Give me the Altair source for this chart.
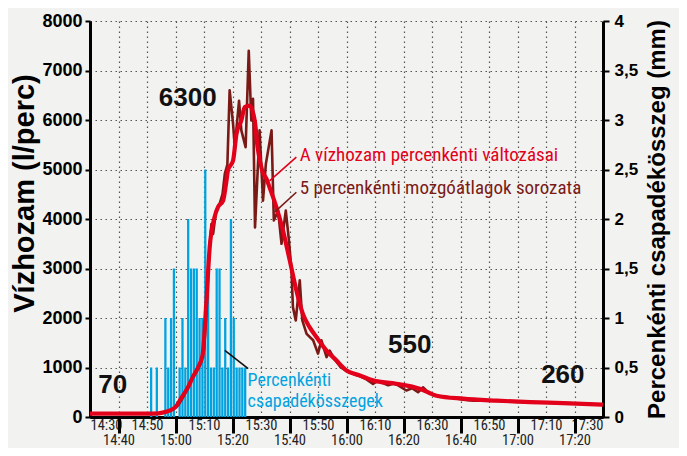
import altair as alt
import pandas as pd

# ---------------- data ----------------
X_TICK_LABELS = ["14:30", "14:40", "14:50", "15:00", "15:10", "15:20", "15:30",
                 "15:40", "15:50", "16:00", "16:10", "16:20", "16:30", "16:40",
                 "16:50", "17:00", "17:10", "17:20", "17:30"]

# per-minute rainfall (mm)
RAIN_TIMES = ["14:51", "14:53", "14:56", "14:57", "14:58", "14:59", "15:01", "15:02",
              "15:03", "15:04", "15:05", "15:06", "15:07", "15:08", "15:09", "15:10",
              "15:11", "15:12", "15:13", "15:14", "15:15", "15:16", "15:17", "15:18",
              "15:19", "15:20", "15:21", "15:22", "15:23", "15:24"]
RAIN_MM = [0.5, 0.5, 1.0, 0.5, 1.0, 1.5, 0.5, 1.0,
           0.5, 2.0, 1.5, 1.5, 1.5, 1.0, 1.0, 2.5,
           1.5, 0.5, 0.5, 1.5, 1.5, 0.5, 1.0, 0.5,
           2.0, 1.0, 0.5, 0.5, 0.5, 0.5]

# per-minute discharge changes (dark line), minutes after 14:30 -> l/perc
DARK_MIN = [0, 24, 27, 30, 31, 32, 33, 34, 35, 36, 37, 38, 39, 40, 40.8, 41.8, 42.6,
            43.2, 44.2, 45.5, 46.5, 47.3, 48.2, 49, 50.2, 50.8, 52.3, 53.1, 54.6, 55.7,
            56.6, 57.2, 57.9, 59.5, 60.7, 61.7, 63.7, 64.5, 66, 67.2, 68.7, 69.8, 70.7,
            71.2, 72.2, 73.6, 74.5, 76, 78.3, 80, 81.2, 83, 84.1, 86, 88, 90, 94, 97,
            99.3, 101, 104.6, 107, 111, 113, 115.1, 116.9, 119, 122, 126, 131, 134.4,
            140, 150, 160, 170, 180]
DARK_VAL = [70, 70, 105, 190, 240, 330, 430, 560, 680, 800, 900, 980, 1100, 1350, 2100,
            3300, 3900, 3700, 4150, 4310, 4500, 4910, 5100, 6600, 5920, 5450, 6390, 5790,
            5450, 7400, 5990, 6430, 3830, 5790, 4370, 5110, 5790, 3970, 4170, 3500, 4170,
            3570, 2960, 2220, 1950, 2760, 1950, 1680, 1550, 1280, 1550, 1210, 1340, 1150,
            1000, 930, 840, 760, 670, 730, 640, 680, 535, 580, 500, 600, 480, 430, 400,
            350, 330, 335, 305, 290, 275, 250]

# 5-minute moving average (red line)
RED_MIN = [0, 20, 24, 27, 30, 32, 34.4, 36, 37.9, 39.5, 40.8, 42, 43.7, 45, 46.7, 47.9,
           48.4, 50.2, 51.4, 53.1, 54.3, 56, 57.8, 58.8, 60.4, 62, 63, 65.4, 67.7, 70.1,
           72.4, 74.7, 77.1, 79.5, 83, 86.5, 90, 94.7, 99.3, 107.5, 115.7, 121.6, 130.9,
           142.7, 154.4, 166, 180]
RED_VAL = [70, 70, 75, 110, 200, 380, 600, 800, 1000, 1250, 2290, 3430, 4036, 4250, 4370,
           4780, 4980, 5180, 5720, 5990, 6260, 6290, 5990, 5450, 4980, 4800, 4640, 4240,
           3770, 3160, 2560, 2080, 1810, 1610, 1340, 1140, 940, 840, 740, 670, 570, 430,
           370, 330, 300, 280, 250]

BIG_TEXT = ["6300", "70", "550", "260"]
BIG_MIN = [34.3, 8.0, 112.2, 165.9]
BIG_VAL = [6450, 640, 1445, 841]

NOTE_TEXT = ["A vízhozam percenkénti változásai", "5 percenkénti mozgóátlagok sorozata"]
NOTE_MIN = [73.6, 73.6]
NOTE_VAL = [5283, 4636]

RAIN_NOTE = ["Percenkénti", "csapadékösszegek"]
RAIN_NOTE_MIN = [55.3, 55.3]
RAIN_NOTE_VAL = [735, 300]

LEAD_MIN = [47.3, 72.4, 72.4]
LEAD_VAL = [1345, 5250, 4540]
LEAD_MIN2 = [55.5, 63.0, 64.8]
LEAD_VAL2 = [975, 4770, 4140]
LEAD_KIND = ["rain", "red", "dark"]


def to_min(s):
    h, m = s.split(":")
    return (int(h) - 14) * 60 + int(m) - 30


rain = pd.DataFrame({"t": [to_min(s) for s in RAIN_TIMES], "mm": RAIN_MM})
rain["t0"] = rain["t"] + 0.05
rain["t1"] = rain["t"] + 0.85
dark = pd.DataFrame({"t": DARK_MIN, "v": DARK_VAL})
red = pd.DataFrame({"t": RED_MIN, "v": RED_VAL})
big = pd.DataFrame({"t": BIG_MIN, "v": BIG_VAL, "txt": BIG_TEXT})
notes = pd.DataFrame({"t": NOTE_MIN, "v": NOTE_VAL, "txt": NOTE_TEXT, "k": ["red", "dark"]})
rnotes = pd.DataFrame({"t": RAIN_NOTE_MIN, "v": RAIN_NOTE_VAL, "txt": RAIN_NOTE})
leads = pd.DataFrame({"t": LEAD_MIN, "v": LEAD_VAL, "t2": LEAD_MIN2, "v2": LEAD_VAL2, "k": LEAD_KIND})

RED = "#E2001A"
DARK = "#7A1A16"
BLUE = "#00A3E0"
NARROW = "Roboto Condensed, DejaVu Sans Condensed, Roboto, Liberation Sans"
SANS = "Liberation Sans"
GRID = dict(grid=True, gridDash=[1.5, 3.5], gridColor="#555555", gridWidth=1.2)

xscale = alt.Scale(domain=[0, 180], nice=False, zero=False)
yscale = alt.Scale(domain=[0, 8000], nice=False)
rscale = alt.Scale(domain=[0, 4], nice=False)

label_arr = "[" + ",".join("'%s'" % s for s in X_TICK_LABELS) + "]"
label_expr = label_arr + "[round(datum.value / 10)]"

# first row of time labels (14:30, 14:50, ...)
x_axis_a = alt.Axis(
    orient="bottom",
    values=list(range(0, 181, 20)),
    labelExpr=label_expr,
    domainColor="black", domainWidth=3,
    ticks=False, labelPadding=1,
    labelFont=NARROW, labelFontSize=14.5, labelColor="#222222",
    title=None, **GRID,
)
# second row (14:40, 15:00, ...) with long ticks
x_axis_b = alt.Axis(
    orient="bottom",
    values=list(range(10, 180, 20)),
    labelExpr=label_expr,
    domainColor="black", domainWidth=3,
    tickColor="black", tickWidth=3, tickSize=16, labelPadding=0,
    labelFont=NARROW, labelFontSize=14.5, labelColor="#222222",
    title=None, **GRID,
)

y_axis = alt.Axis(
    orient="left",
    values=list(range(0, 8001, 1000)),
    format="d",
    domainColor="black", domainWidth=3,
    tickColor="black", tickWidth=2, tickSize=5,
    labelFont=SANS, labelFontWeight="bold", labelFontSize=18, labelColor="black",
    labelPadding=3,
    title="Vízhozam (l/perc)", titleFont=SANS, titleFontWeight="bold",
    titleFontSize=29, titleColor="black", titleY=172, titlePadding=2,
    **GRID,
)

r_axis = alt.Axis(
    orient="right",
    values=[0, 0.5, 1, 1.5, 2, 2.5, 3, 3.5, 4],
    labelExpr="replace(toString(datum.value), '.', ',')",
    grid=False,
    domainColor="black", domainWidth=3,
    tickColor="black", tickWidth=2, tickSize=6,
    labelFont=SANS, labelFontWeight="bold", labelFontSize=17, labelColor="black",
    labelPadding=5,
    title="Percenkénti csapadékösszeg (mm)", titleFont=SANS, titleFontWeight="bold",
    titleFontSize=24, titleColor="black", titleAngle=270, titleBaseline="top",
    titlePadding=8,
)

bars = alt.Chart(rain).mark_bar(color=BLUE).encode(
    x=alt.X("t0:Q", scale=xscale, axis=x_axis_a),
    x2="t1:Q",
    y=alt.Y("mm:Q", scale=rscale, axis=r_axis),
    y2=alt.datum(0),
)

dark_line = alt.Chart(dark).mark_line(color=DARK, strokeWidth=2.6, strokeJoin="round").encode(
    x=alt.X("t:Q", scale=xscale, axis=x_axis_b),
    y=alt.Y("v:Q", scale=yscale, axis=y_axis),
)

red_line = alt.Chart(red).mark_line(color=RED, strokeWidth=4.2, strokeJoin="round",
                                    interpolate="monotone").encode(
    x=alt.X("t:Q", scale=xscale, axis=None),
    y=alt.Y("v:Q", scale=yscale, axis=None),
)

lead_rules = alt.Chart(leads).mark_rule(strokeWidth=1.6).encode(
    x=alt.X("t:Q", scale=xscale, axis=None),
    y=alt.Y("v:Q", scale=yscale, axis=None),
    x2="t2:Q", y2="v2:Q",
    color=alt.Color("k:N", scale=alt.Scale(domain=["rain", "red", "dark"],
                                           range=["#111111", RED, DARK]), legend=None),
)

big_text = alt.Chart(big).mark_text(font=SANS, fontWeight="bold", fontSize=26,
                                    color="#111111", align="center", baseline="middle").encode(
    x=alt.X("t:Q", scale=xscale, axis=None),
    y=alt.Y("v:Q", scale=yscale, axis=None),
    text="txt:N",
)

note_text = alt.Chart(notes).mark_text(font=NARROW, fontSize=19, align="left",
                                       baseline="middle").encode(
    x=alt.X("t:Q", scale=xscale, axis=None),
    y=alt.Y("v:Q", scale=yscale, axis=None),
    text="txt:N",
    color=alt.Color("k:N", scale=alt.Scale(domain=["red", "dark"], range=[RED, DARK]),
                    legend=None),
)

rain_text = alt.Chart(rnotes).mark_text(font=NARROW, fontSize=18, align="left",
                                        baseline="middle", color=BLUE).encode(
    x=alt.X("t:Q", scale=xscale, axis=None),
    y=alt.Y("v:Q", scale=yscale, axis=None),
    text="txt:N",
)

chart = alt.layer(
    bars, dark_line, red_line, lead_rules, big_text, note_text, rain_text
).resolve_scale(
    y="independent", color="independent"
).resolve_axis(
    x="independent", y="independent"
).properties(
    width=513, height=396,
    autosize=alt.AutoSizeParams(type="none"),
    padding={"left": 82, "top": 13, "right": 76, "bottom": 31},
    background="#F2F2F0",
).configure_view(stroke=None)

chart.save("out.html", embed_options={"renderer": "svg", "actions": False})
